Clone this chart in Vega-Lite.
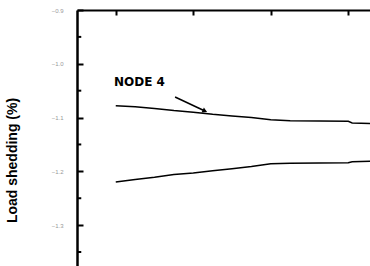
{
  "$schema": "https://vega.github.io/schema/vega-lite/v6.json",
  "width": 293,
  "height": 256,
  "autosize": {"type": "none"},
  "padding": {"left": 77, "top": 10, "right": 0, "bottom": 0},
  "background": "white",
  "config": {"view": {"stroke": null}, "font": "Liberation Sans"},
  "datasets": {
    "curves": [
      {"series": "node4", "x": 1.0, "y": -1.078},
      {"series": "node4", "x": 1.5, "y": -1.080},
      {"series": "node4", "x": 2.0, "y": -1.083},
      {"series": "node4", "x": 2.5, "y": -1.087},
      {"series": "node4", "x": 3.0, "y": -1.090},
      {"series": "node4", "x": 3.5, "y": -1.094},
      {"series": "node4", "x": 4.0, "y": -1.097},
      {"series": "node4", "x": 4.5, "y": -1.100},
      {"series": "node4", "x": 5.0, "y": -1.104},
      {"series": "node4", "x": 5.5, "y": -1.106},
      {"series": "node4", "x": 7.0, "y": -1.107},
      {"series": "node4", "x": 7.1, "y": -1.110},
      {"series": "node4", "x": 7.6, "y": -1.111},
      {"series": "lower", "x": 1.0, "y": -1.220},
      {"series": "lower", "x": 1.5, "y": -1.215},
      {"series": "lower", "x": 2.0, "y": -1.211},
      {"series": "lower", "x": 2.5, "y": -1.206},
      {"series": "lower", "x": 3.0, "y": -1.203},
      {"series": "lower", "x": 3.5, "y": -1.199},
      {"series": "lower", "x": 4.0, "y": -1.195},
      {"series": "lower", "x": 4.5, "y": -1.191},
      {"series": "lower", "x": 5.0, "y": -1.186},
      {"series": "lower", "x": 5.5, "y": -1.185},
      {"series": "lower", "x": 7.0, "y": -1.184},
      {"series": "lower", "x": 7.1, "y": -1.182},
      {"series": "lower", "x": 7.6, "y": -1.181}
    ],
    "minor": [
      {"y": -0.95, "x": 0, "x2": 0.11},
      {"y": -1.05, "x": 0, "x2": 0.11},
      {"y": -1.15, "x": 0, "x2": 0.11},
      {"y": -1.25, "x": 0, "x2": 0.11},
      {"y": -1.35, "x": 0, "x2": 0.11}
    ],
    "arrow": [
      {"x": 2.53, "y": -1.0617, "x2": 3.30, "y2": -1.0877}
    ],
    "label": [
      {"x": 0.955, "y": -1.0413, "text": "NODE 4"}
    ]
  },
  "layer": [
    {
      "data": {"name": "curves"},
      "mark": {"type": "line", "color": "black", "strokeWidth": 1.5, "clip": true},
      "encoding": {
        "x": {
          "field": "x", "type": "quantitative",
          "scale": {"domain": [0, 7.56], "nice": false, "zero": false},
          "axis": {
            "orient": "top", "values": [1, 3, 5, 7], "labels": false, "title": null,
            "grid": false, "domainColor": "black", "domainWidth": 2,
            "tickColor": "black", "tickWidth": 2, "tickSize": -5
          }
        },
        "y": {
          "field": "y", "type": "quantitative",
          "scale": {"domain": [-1.376, -0.9], "nice": false, "zero": false},
          "axis": {
            "orient": "left",
            "values": [-0.9, -1.0, -1.1, -1.2, -1.3],
            "format": ".1f",
            "title": "Load shedding (%)",
            "titleX": -58, "titleY": 150,
            "titleFontSize": 14, "titleFontWeight": "bold", "titleColor": "black",
            "grid": false, "domainColor": "black", "domainWidth": 2.5,
            "tickColor": "black", "tickWidth": 2, "tickSize": -6,
            "labelOverlap": false,
            "labelFontSize": 6, "labelColor": "#999999", "labelPadding": 20
          }
        },
        "detail": {"field": "series"}
      }
    },
    {
      "data": {"name": "minor"},
      "mark": {"type": "rule", "color": "black", "strokeWidth": 2},
      "encoding": {
        "x": {"field": "x", "type": "quantitative"},
        "x2": {"field": "x2"},
        "y": {"field": "y", "type": "quantitative"}
      }
    },
    {
      "data": {"name": "arrow"},
      "mark": {"type": "rule", "color": "black", "strokeWidth": 1.5},
      "encoding": {
        "x": {"field": "x", "type": "quantitative"},
        "y": {"field": "y", "type": "quantitative"},
        "x2": {"field": "x2"},
        "y2": {"field": "y2"}
      }
    },
    {
      "data": {"name": "arrow"},
      "mark": {"type": "point", "shape": "triangle-right", "filled": true, "color": "black", "size": 30, "angle": 25, "opacity": 1},
      "encoding": {
        "x": {"field": "x2", "type": "quantitative"},
        "y": {"field": "y2", "type": "quantitative"}
      }
    },
    {
      "data": {"name": "label"},
      "mark": {"type": "text", "font": "DejaVu Sans", "fontWeight": "bold", "fontSize": 12, "align": "left", "baseline": "alphabetic", "color": "black"},
      "encoding": {
        "x": {"field": "x", "type": "quantitative"},
        "y": {"field": "y", "type": "quantitative"},
        "text": {"field": "text"}
      }
    }
  ]
}
